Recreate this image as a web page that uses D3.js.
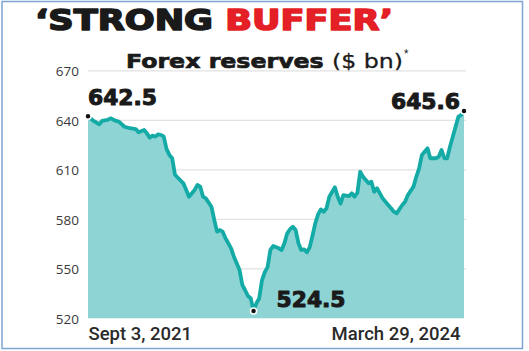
<!DOCTYPE html>
<html><head><meta charset="utf-8">
<script src="https://cdn.jsdelivr.net/npm/d3@7"></script>
<style>html,body{margin:0;padding:0;background:#fff;}svg{display:block;}</style>
</head><body>
<svg id="chart" width="529" height="351"></svg>
<script>
// ---- data (weekly, weeks after Sept 3, 2021) ----
const startDate = "2021-09-03";
const weeks = [0,2,4,5,7,8,10,11,13,15,17,18,20,21,22,23,24,25,26,27,28,29,30,31,33,34,35,36,38,39,40,41,42,44,45,46,47,48,49,51,52,53,54,55,56,57,58,59,60,61,62,63,64,65,66,68,69,70,71,72,73,74,75,76,77,78,79,80,81,82,83,84,85,86,88,89,90,91,93,94,95,96,97,98,100,101,102,103,105,106,108,109,110,112,113,114,116,117,118,119,121,122,124,125,126,127,128,129,131,132,133,134];
const values = [642.5,639.6,637.6,639.6,640.2,641.2,639.6,639.2,636.1,635.2,634.7,632.7,634.1,632.1,629.5,630.7,630.1,631.5,631.1,630.1,622.5,619,617,607,603.5,601.8,597.8,593.7,597.8,600.8,599.8,593.7,592.7,587.6,579.6,572.5,573.5,572.5,568.5,562.4,557.3,553.3,549.3,540.2,537,533.5,532.1,524.5,529.1,532,543,548,551,561.5,563.8,562.4,561.4,565.5,571.5,574,575.5,573.5,565.5,561.4,561.8,560,563,570,577.6,583,586,584.6,586.7,593.7,599.4,593.7,589.5,594.7,594.1,595.8,593.7,596,608.8,605.8,601.8,602.8,596.7,598.8,592.7,590.7,586.7,584.6,583.6,588.7,590.7,594.7,599.8,605.8,610.9,619,623,617,617,617.9,622,617,617,624,636.1,642.2,643.2,645.6];
const yTicks = [520,550,580,610,640,670];
const xTickLabels = ["Sept 3, 2021","March 29, 2024"];
const annotations = [
  {week:0, value:642.5, label:"642.5"},
  {week:59, value:524.5, label:"524.5"},
  {week:134, value:645.6, label:"645.6"}
];
const titleParts = ["‘STRONG ", "BUFFER’"];
const subtitle = "Forex reserves";

// ---- setup ----
const svg = d3.select("#chart");
const parse = d3.timeParse("%Y-%m-%d");
const t0 = parse(startDate);
const data = weeks.map((w,i)=>({date:d3.timeDay.offset(t0, 7*w), value:values[i]}));
const endDate = d3.timeDay.offset(t0, 7*d3.max(weeks));

const x = d3.scaleTime().domain([t0, endDate]).range([88, 464]);
const y = d3.scaleLinear().domain([520, 670]).range([318.3, 70.8]);

// border
svg.append("rect").attr("x",2).attr("y",1.5).attr("width",520.5).attr("height",347)
  .attr("fill","none").attr("stroke","#7ea4d3").attr("stroke-width",1.5);

// title
const title = svg.append("text").attr("x",35).attr("y",29.5)
  .attr("font-family","'DejaVu Sans', sans-serif").attr("font-weight",700)
  .attr("font-size",29).attr("textLength",358).attr("lengthAdjust","spacingAndGlyphs")
  .attr("stroke-width",1.6).attr("stroke-linejoin","round");
title.append("tspan").attr("fill","#1a1a1a").attr("stroke","#1a1a1a").text(titleParts[0]);
title.append("tspan").attr("fill","#e41f26").attr("stroke","#e41f26").text(titleParts[1]);

// subtitle
const sub = svg.append("text").attr("x",126).attr("y",67.5)
  .attr("font-family","'DejaVu Sans', sans-serif").attr("font-size",20).attr("fill","#1a1a1a")
  .attr("textLength",277).attr("lengthAdjust","spacingAndGlyphs");
sub.append("tspan").attr("font-weight",700).attr("stroke","#1a1a1a").attr("stroke-width",0.7).text(subtitle+" ");
sub.append("tspan").attr("font-weight",400).attr("stroke","#1a1a1a").attr("stroke-width",0.3).text("($ bn)");
svg.append("text").attr("x",404).attr("y",57).attr("font-family","Roboto, sans-serif")
  .attr("font-size",10).attr("fill","#1a1a1a").text("*");

// gridlines
svg.append("g").selectAll("line").data(yTicks.filter(d=>d>520)).join("line")
  .attr("x1",88).attr("x2",466).attr("y1",d=>y(d)).attr("y2",d=>y(d))
  .attr("stroke","#e2e2e2").attr("stroke-width",1.2);

// y axis labels
const yAxis = d3.axisLeft(y).tickValues(yTicks).tickSize(0).tickPadding(0);
const ya = svg.append("g").attr("transform","translate(79,0)").call(yAxis);
ya.select(".domain").remove();
ya.selectAll("text").attr("font-family","'Open Sans', 'DejaVu Sans', sans-serif")
  .attr("font-size",13.5).attr("fill","#3a3a3a").attr("dy","0.35em");

// area
const area = d3.area().x(d=>x(d.date)).y0(y(520)).y1(d=>y(d.value)).curve(d3.curveLinear);
svg.append("path").datum(data).attr("d",area).attr("fill","#8fd4d4");

// line
const line = d3.line().x(d=>x(d.date)).y(d=>y(d.value));
svg.append("path").datum(data).attr("d",line).attr("fill","none")
  .attr("stroke","#14aba6").attr("stroke-width",3.8).attr("stroke-linejoin","round").attr("stroke-linecap","round");

// x axis labels
const xAxis = d3.axisBottom(x).tickValues([t0,endDate]).tickSize(0).tickPadding(0)
  .tickFormat((d,i)=>xTickLabels[i]);
const xa = svg.append("g").attr("transform","translate(0,339.5)").call(xAxis);
xa.select(".domain").remove();
xa.selectAll("text").attr("font-family","Roboto, 'DejaVu Sans', sans-serif").attr("font-size",18.5)
  .attr("font-weight",500).attr("fill","#2a2a2a").attr("dy",0)
  .attr("text-anchor",(d,i)=>i===0?"start":"end")
  .attr("transform",(d,i)=>i===0?"translate(0,0)":"translate(-4,0)");

// annotation dots and labels
const ann = annotations.map(a=>({...a, date:d3.timeDay.offset(t0, 7*a.week)}));
svg.append("g").selectAll("circle").data(ann).join("circle")
  .attr("cx",d=>x(d.date)).attr("cy",d=>y(d.value)).attr("r",3)
  .attr("fill","#111").attr("stroke","#fff").attr("stroke-width",1.5);
const labelPos = [
  {dx:0, dy:-11, anchor:"start"},
  {dx:23, dy:-4, anchor:"start"},
  {dx:-4, dy:-2, anchor:"end"}
];
svg.append("g").selectAll("text").data(ann).join("text")
  .attr("x",(d,i)=>x(d.date)+labelPos[i].dx).attr("y",(d,i)=>y(d.value)+labelPos[i].dy)
  .attr("text-anchor",(d,i)=>labelPos[i].anchor)
  .attr("font-family","'DejaVu Sans', sans-serif").attr("font-weight",700)
  .attr("font-size",21).attr("fill","#1a1a1a").attr("stroke","#1a1a1a").attr("stroke-width",1)
  .attr("stroke-linejoin","round")
  .attr("textLength",69).attr("lengthAdjust","spacingAndGlyphs")
  .text(d=>d.label);
</script>
</body></html>
